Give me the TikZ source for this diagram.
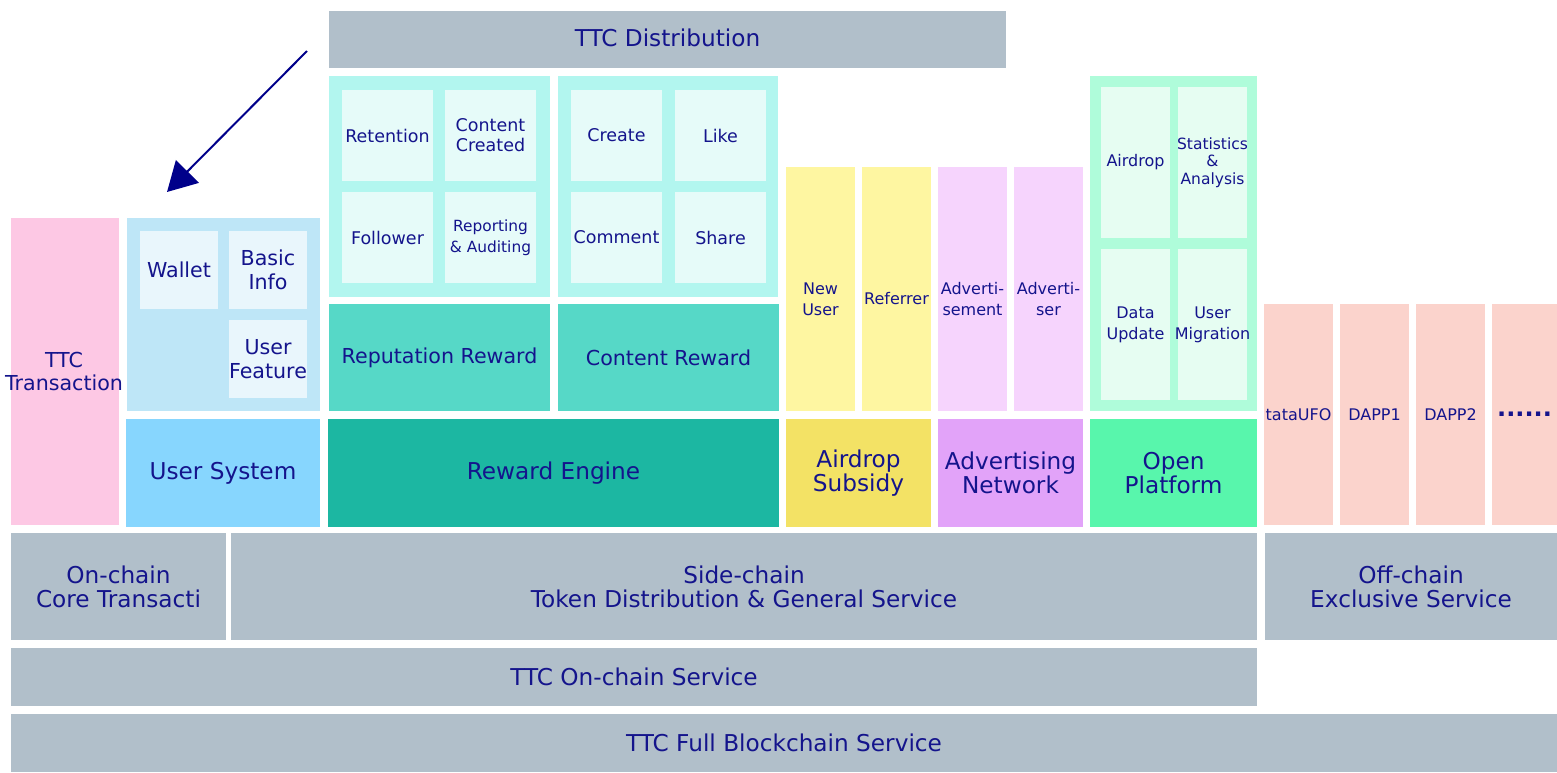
\documentclass[tikz,border=0pt]{standalone}
\usepackage{fontspec}
\setmainfont{DejaVu Sans}
\usetikzlibrary{arrows.meta}
\definecolor{cgray}{HTML}{B1BFCA}
\definecolor{cpink}{HTML}{FDC8E4}
\definecolor{cucont}{HTML}{BEE6F7}
\definecolor{cuin}{HTML}{E9F6FC}
\definecolor{cusys}{HTML}{87D6FE}
\definecolor{ctcont}{HTML}{B2F6EF}
\definecolor{ctin}{HTML}{E6FBF9}
\definecolor{creward}{HTML}{56D8C7}
\definecolor{cengine}{HTML}{1CB7A2}
\definecolor{cyellow}{HTML}{FEF6A1}
\definecolor{csubsidy}{HTML}{F3E265}
\definecolor{cviolet}{HTML}{F6D4FD}
\definecolor{cadnet}{HTML}{E2A3F9}
\definecolor{cocont}{HTML}{AFFCDA}
\definecolor{coin}{HTML}{E6FDF2}
\definecolor{coplat}{HTML}{58F6AC}
\definecolor{csalmon}{HTML}{FBD3CC}
\definecolor{ctext}{HTML}{14148C}
\definecolor{carrow}{HTML}{00008A}
% #1 name, #2-#5 box corners, #6 fill style, #7 font style, #8 text
\newcommand\bx[8]{%
  \node[blk,#6,minimum width={(#4-#2)*1pt},minimum height={(#5-#3)*1pt}] (#1) at ({(#2+#4)/2},{(#3+#5)/2}) {};%
  \node[lbl,#7] (#1T) at (#1.center) {#8};}
\tikzset{
  blk/.style={draw=none,inner sep=0pt},
  lbl/.style={draw=none,inner sep=0pt,align=center,text=ctext},
  fbig/.style={font=\fontsize{23.2}{24}\selectfont},
  fmid/.style={font=\fontsize{20.6}{23.5}\selectfont},
  fsm/.style={font=\fontsize{17.5}{20}\selectfont},
  fxs/.style={font=\fontsize{16}{21}\selectfont},
  fxxs/.style={font=\fontsize{15.4}{21}\selectfont},
  fst/.style={font=\fontsize{15.5}{17.5}\selectfont},
}
\begin{document}
\begin{tikzpicture}[x=1pt,y=-1pt]
\useasboundingbox (0,0) rectangle (1557,772);
% top
\bx{dist}{329}{11}{1006}{68}{fill=cgray}{fbig,yshift=1.5pt}{TTC Distribution}
% TTC Transaction
\bx{trans}{11}{218}{119}{525}{fill=cpink}{fmid,xshift=-1pt}{TTC\\Transaction}
% user system
\bx{ucont}{127}{218}{320}{411}{fill=cucont}{}{}
\bx{wallet}{140}{231}{218}{309}{fill=cuin}{fmid}{Wallet}
\bx{basic}{229}{231}{307}{309}{fill=cuin}{fmid}{Basic\\Info}
\bx{ufeat}{229}{320}{307}{398}{fill=cuin}{fmid}{User\\Feature}
\bx{usys}{126}{419}{320}{527}{fill=cusys}{fbig}{User System}
% reputation
\bx{repc}{329}{76}{550}{297}{fill=ctcont}{}{}
\bx{reten}{342}{90}{433}{181}{fill=ctin}{fsm}{Retention}
\bx{ccreated}{445}{90}{536}{181}{fill=ctin}{fsm}{Content\\Created}
\bx{follower}{342}{192}{433}{283}{fill=ctin}{fsm}{Follower}
\bx{report}{445}{192}{536}{283}{fill=ctin}{fxxs}{Reporting\\\& Auditing}
\bx{contc}{558}{76}{778}{297}{fill=ctcont}{}{}
\bx{create}{571}{90}{662}{181}{fill=ctin}{fsm}{Create}
\bx{like}{675}{90}{766}{181}{fill=ctin}{fsm}{Like}
\bx{comment}{571}{192}{662}{283}{fill=ctin}{fsm}{Comment}
\bx{share}{675}{192}{766}{283}{fill=ctin}{fsm}{Share}
\bx{repr}{329}{304}{550}{411}{fill=creward}{fmid}{Reputation Reward}
\bx{conr}{558}{304}{779}{411}{fill=creward}{fmid}{Content Reward}
\bx{engine}{328}{419}{779}{527}{fill=cengine}{fbig}{Reward Engine}
% airdrop / ads
\bx{newuser}{786}{167}{855}{411}{fill=cyellow}{fxs,yshift=-10pt}{New\\User}
\bx{referrer}{862}{167}{931}{411}{fill=cyellow}{fxs,yshift=-10pt}{Referrer}
\bx{advment}{938}{167}{1007}{411}{fill=cviolet}{fxs,yshift=-10pt}{Adverti-\\sement}
\bx{adver}{1014}{167}{1083}{411}{fill=cviolet}{fxs,yshift=-10pt}{Adverti-\\ser}
\bx{subsidy}{786}{419}{931}{527}{fill=csubsidy}{fbig}{Airdrop\\Subsidy}
\bx{adnet}{938}{419}{1083}{527}{fill=cadnet}{fbig}{Advertising\\Network}
% open platform
\bx{opc}{1090}{76}{1257}{411}{fill=cocont}{}{}
\bx{oair}{1101}{87}{1170}{238}{fill=coin}{fxs}{Airdrop}
\bx{ostat}{1178}{87}{1247}{238}{fill=coin}{fst}{Statistics\\\&\\Analysis}
\bx{odata}{1101}{249}{1170}{400}{fill=coin}{fxs}{Data\\Update}
\bx{omig}{1178}{249}{1247}{400}{fill=coin}{fxs}{User\\Migration}
\bx{oplat}{1090}{419}{1257}{527}{fill=coplat}{fbig}{Open\\Platform}
% dapps
\bx{tata}{1264}{304}{1333}{525}{fill=csalmon}{fxs}{tataUFO}
\bx{dapp1}{1340}{304}{1409}{525}{fill=csalmon}{fxs}{DAPP1}
\bx{dapp2}{1416}{304}{1485}{525}{fill=csalmon}{fxs}{DAPP2}
\bx{dots}{1492}{304}{1557}{525}{fill=csalmon}{font=\fontsize{24}{24}\bfseries\selectfont}{......}
% chains
\bx{onchain}{11}{533}{226}{640}{fill=cgray}{fbig}{On-chain\\Core Transacti}
\bx{side}{231}{533}{1257}{640}{fill=cgray}{fbig}{Side-chain\\Token Distribution \& General Service}
\bx{off}{1265}{533}{1557}{640}{fill=cgray}{fbig}{Off-chain\\Exclusive Service}
\bx{ocs}{11}{648}{1257}{706}{fill=cgray}{fbig}{TTC On-chain Service}
\bx{full}{11}{714}{1557}{772}{fill=cgray}{fbig}{TTC Full Blockchain Service}
% arrow
\coordinate (arrS) at (307,51);
\coordinate (arrE) at (167,192);
\draw[carrow,line width=2pt,-{Triangle[length=29pt,width=32pt]}] (arrS) -- (arrE);
\end{tikzpicture}
\end{document}
